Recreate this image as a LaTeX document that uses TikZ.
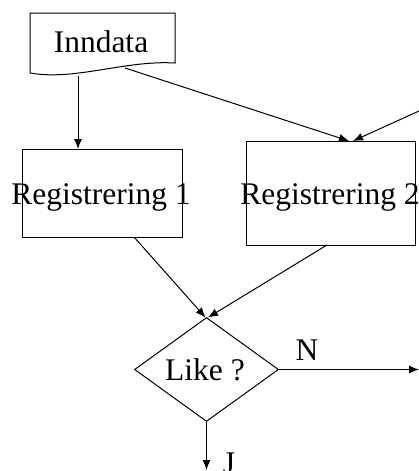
\documentclass[tikz,border=0pt]{standalone}
\usepackage{fontspec}
\setmainfont{Liberation Serif}
\usetikzlibrary{shapes.geometric,arrows.meta}
\begin{document}
\begin{tikzpicture}[x=1pt,y=-1pt,
  line width=1pt,
  box/.style={draw,rectangle,inner sep=0pt},
  lbl/.style={anchor=base,inner sep=0pt,font=\fontsize{31.5}{36}\selectfont},
  conn/.style={-{Latex[length=10pt,width=8pt]}}]
\useasboundingbox (0,0) rectangle (419,471);
% Inndata document shape
\draw (30,13) -- (175,13) -- (175,63)
  .. controls (125,60) and (75,81) .. (30,73) -- cycle;
\node[lbl] (inntxt) at (101,52) {Inndata};
\coordinate (innA) at (78,76);
\coordinate (innB) at (125,68);
% boxes
\node[box,minimum width=160pt,minimum height=88pt] (reg1) at (102,193) {};
\node[lbl] (reg1txt) at (101,204) {Registrering 1};
\node[box,minimum width=169pt,minimum height=104pt] (reg2) at (330.5,193) {};
\node[lbl] (reg2txt) at (330,204) {Registrering 2};
% diamond
\node[draw,diamond,inner sep=0pt,minimum width=144pt,minimum height=104pt] (d) at (206.5,369.5) {};
\node[lbl] (dtxt) at (205,380) {Like ?};
\node[lbl] (ntxt) at (307,360) {N};
\node[lbl] (jtxt) at (229,473) {J};
% connectors
\coordinate (r1top) at (78,149);
\coordinate (r2topA) at (349,141);
\coordinate (r2topB) at (353,141);
\coordinate (offR) at (419,111);
\coordinate (r1bot) at (134,237);
\coordinate (r2bot) at (327,245);
\coordinate (dtopA) at (205.5,317.5);
\coordinate (dtopB) at (208,317.5);
\coordinate (nEnd) at (419,369.5);
\coordinate (jEnd) at (206.5,470);
\draw[conn] (innA) -- (r1top);
\draw[conn] (innB) -- (r2topA);
\draw[conn] (offR) -- (r2topB);
\draw[conn] (r1bot) -- (dtopA);
\draw[conn] (r2bot) -- (dtopB);
\draw[conn] (d.east) -- (nEnd);
\draw[conn] (d.south) -- (jEnd);
\end{tikzpicture}
\end{document}
